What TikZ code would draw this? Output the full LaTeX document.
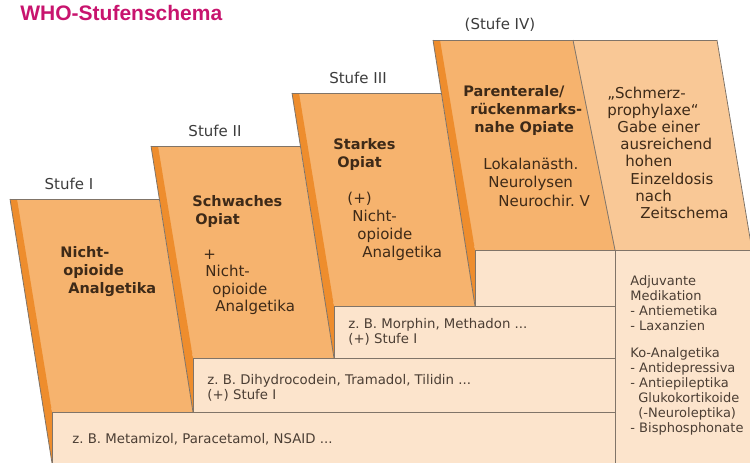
\documentclass[tikz,border=0pt]{standalone}
\usepackage{fontspec}
\setmainfont{DejaVu Sans}
\newfontfamily\titlefont{Liberation Sans}
\frenchspacing
\definecolor{faceorange}{RGB}{246,179,110}
\definecolor{sideorange}{RGB}{238,141,45}
\definecolor{panelorange}{RGB}{249,200,150}
\definecolor{barpeach}{RGB}{252,228,204}
\definecolor{edgegray}{RGB}{128,116,104}
\definecolor{titlemagenta}{RGB}{200,20,110}
\definecolor{stufegray}{RGB}{60,60,60}
\definecolor{textbrown}{RGB}{62,42,24}
\definecolor{bartext}{RGB}{75,62,52}

\begin{document}
\begin{tikzpicture}[x=1pt,y=-1pt,line width=0.8pt,
  stepface/.style={fill=faceorange},
  sidestrip/.style={fill=sideorange},
  drugbar/.style={fill=barpeach,draw=edgegray},
  edge/.style={draw=edgegray},
  stufelbl/.style={anchor=base,inner sep=0pt,text=stufegray,font=\fontsize{15}{18}\selectfont},
  stepname/.style={anchor=base west,align=left,inner sep=0pt,text=textbrown,font=\bfseries\fontsize{14.5}{18.3}\selectfont},
  stepadd/.style={anchor=base west,align=left,inner sep=0pt,text=textbrown,font=\fontsize{15}{18}\selectfont},
  drugtext/.style={anchor=base west,align=left,inner sep=0pt,text=bartext,font=\fontsize{13.3}{15.5}\selectfont}]
\useasboundingbox (0,0) rectangle (750,463);

% step faces and the Schmerzprophylaxe panel
\fill[stepface] (10,199) -- (159,199) -- (193,412) -- (52,412) -- cycle;
\fill[stepface] (151,146) -- (300,146) -- (334,358) -- (193,358) -- cycle;
\fill[stepface] (292,93) -- (441,93) -- (475,306) -- (334,306) -- cycle;
\fill[stepface] (433,40) -- (573,40) -- (615,250) -- (475,250) -- cycle;
\fill[panelorange] (573,40) -- (717,40) -- (752,250) -- (615,250) -- cycle;

% side strips
\fill[sidestrip] (10,199) -- (52,463) -- (52,412) -- (17,199) -- cycle;
\fill[sidestrip] (151,146) -- (193,412) -- (193,358) -- (158,146) -- cycle;
\fill[sidestrip] (292,93) -- (334,358) -- (334,306) -- (299,93) -- cycle;
\fill[sidestrip] (433,40) -- (475,306) -- (475,250) -- (440,40) -- cycle;

\draw[edge] (10,199) -- (159,199);
\draw[edge] (151,146) -- (300,146);
\draw[edge] (292,93) -- (441,93);
\draw[edge] (433,40) -- (717,40);
\draw[edge] (10,199) -- (52,463);
\draw[edge] (151,146) -- (193,412);
\draw[edge] (292,93) -- (334,358);
\draw[edge] (433,40) -- (475,306);
\draw[edge] (573,40) -- (615,250);
\draw[edge] (717,40) -- (752,250);

% bars
\draw[drugbar] (52,412) rectangle (615,470);
\draw[drugbar] (193,358) rectangle (615,412);
\draw[drugbar] (334,306) rectangle (615,358);
\draw[drugbar] (475,250) rectangle (615,306);
\draw[drugbar] (615,250) rectangle (760,470);

\node[anchor=base west,inner sep=0pt,text=titlemagenta,font=\titlefont\bfseries\fontsize{21}{24}\selectfont] (title) at (20,20) {WHO-Stufenschema};

\node[stufelbl] (stufeI) at (69,189) {Stufe I};
\node[stufelbl] (stufeII) at (215,136) {Stufe II};
\node[stufelbl] (stufeIII) at (358,83) {Stufe III};
\node[stufelbl] (stufeIV) at (500,29) {(Stufe IV)};

% anchor base = baseline of the last line
\node[stepname] (nameI) at (60,293.6) {Nicht-\\\hspace*{3pt}opioide\\\hspace*{8pt}Analgetika};
\node[stepname] (nameII) at (192,224.3) {Schwaches\\\hspace*{3pt}Opiat};
\node[stepadd,font=\fontsize{15}{17.5}\selectfont] (addII) at (203,311.5) {+\\\hspace*{2pt}Nicht-\\\hspace*{9pt}opioide\\\hspace*{12pt}Analgetika};
\node[stepname] (nameIII) at (333,167.3) {Starkes\\\hspace*{4pt}Opiat};
\node[stepadd] (addIII) at (347,257) {(+)\\\hspace*{5pt}Nicht-\\\hspace*{10pt}opioide\\\hspace*{15pt}Analgetika};
\node[stepname] (nameIV) at (463,132.6) {Parenterale/\\\hspace*{7pt}rückenmarks-\\\hspace*{11pt}nahe Opiate};
\node[stepadd,font=\fontsize{15}{18.5}\selectfont] (addIV) at (483,206) {Lokalanästh.\\\hspace*{5pt}Neurolysen\\\hspace*{15pt}Neurochir. V};
\node[stepadd,font=\fontsize{15}{17.2}\selectfont] (prophy) at (607,218.4) {„Schmerz-\\prophylaxe“\\\hspace*{10pt}Gabe einer\\\hspace*{13pt}ausreichend\\\hspace*{18pt}hohen\\\hspace*{23pt}Einzeldosis\\\hspace*{28pt}nach\\\hspace*{33pt}Zeitschema};

\node[drugtext] (drugI) at (72,443) {z. B. Metamizol, Paracetamol, NSAID ...};
\node[drugtext] (drugII) at (207,399.5) {z. B. Dihydrocodein, Tramadol, Tilidin ...\\(+) Stufe I};
\node[drugtext] (drugIII) at (348,343.5) {z. B. Morphin, Methadon ...\\(+) Stufe I};
\node[drugtext,font=\fontsize{13}{15}\selectfont] (adjuv) at (630,432) {Adjuvante\\Medikation\\- Antiemetika\\- Laxanzien\\[12pt]Ko-Analgetika\\- Antidepressiva\\- Antiepileptika\\\hspace*{8pt}Glukokortikoide\\\hspace*{8pt}(-Neuroleptika)\\- Bisphosphonate};
\end{tikzpicture}
\end{document}
